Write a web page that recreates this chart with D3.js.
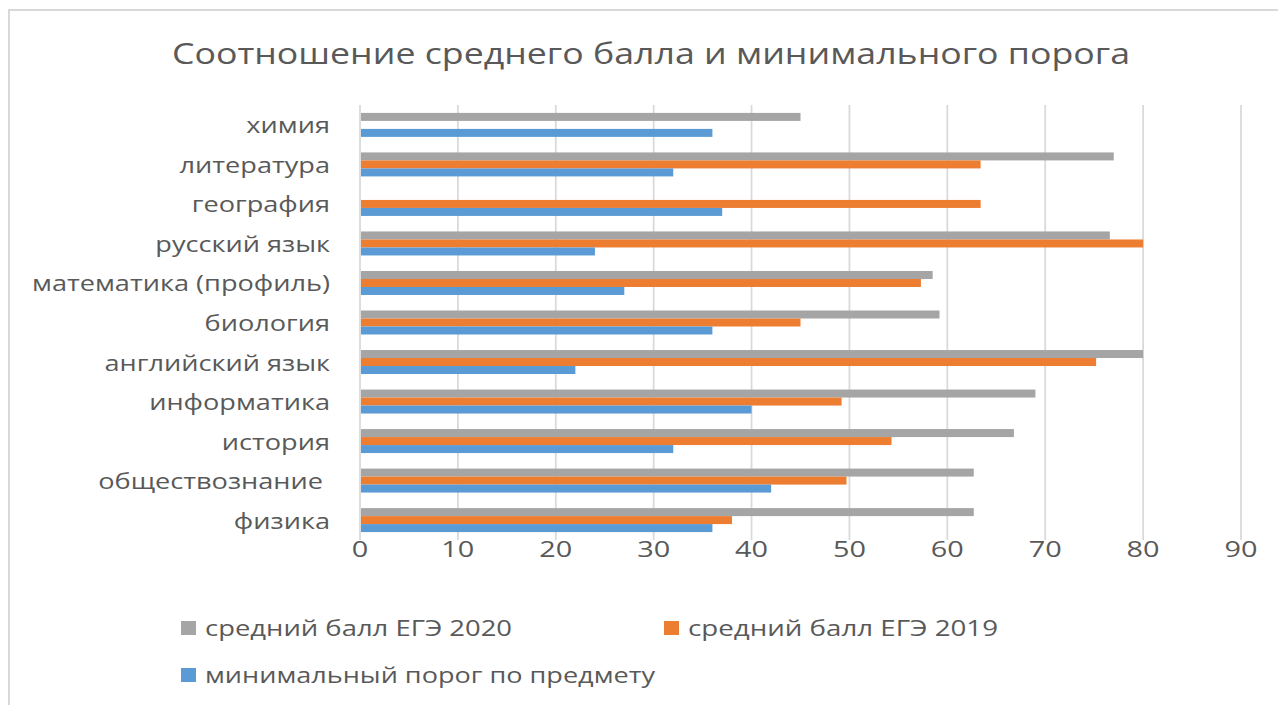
<!DOCTYPE html>
<html><head><meta charset="utf-8">
<script src="https://cdn.jsdelivr.net/npm/d3@7"></script>
<style>body{margin:0;background:#fff}svg{display:block}</style>
</head><body>
<svg id="c" width="1278" height="705"></svg>
<script>
const title = "Соотношение среднего балла и минимального порога";
const categories = ["химия","литература","география","русский язык","математика (профиль)","биология","английский язык","информатика","история","обществознание ","физика"];
const seriesNames = ["средний балл ЕГЭ 2020","средний балл ЕГЭ 2019","минимальный порог по предмету"];
const avg2020 = [45, 77, null, 76.6, 58.5, 59.2, 80, 69, 66.8, 62.7, 62.7];
const avg2019 = [null, 63.4, 63.4, 80, 57.3, 45, 75.2, 49.2, 54.3, 49.7, 38];
const minThreshold = [36, 32, 37, 24, 27, 36, 22, 40, 32, 42, 36];
const xTicks = [0,10,20,30,40,50,60,70,80,90];
const colors = ["#A5A5A5","#ED7D31","#5B9BD5"];

const series = [avg2020, avg2019, minThreshold];
const svg = d3.select("#c");
const FONT = "'Open Sans', sans-serif";
const TXT = "#595959";

// frame
svg.append("rect").attr("x",9).attr("y",10).attr("width",1290).attr("height",720)
  .attr("fill","#fff").attr("stroke","#d9d9d9").attr("stroke-width",2);

const x = d3.scaleLinear().domain([0,90]).range([360,1241]);
const y = d3.scaleBand().domain(categories).range([105,540]).paddingInner(0.393).paddingOuter(0.2);
const sub = d3.scaleBand().domain([0,1,2]).range([0,y.bandwidth()]);

function stretch(sel, sx){ sel.each(function(){ const w=this.getComputedTextLength(); d3.select(this).attr("textLength",w*sx).attr("lengthAdjust","spacingAndGlyphs"); }); }
function fitGroup(sel, refText, target){
  const t = svg.append("text").style("font-family",FONT).style("font-size",sel.style("font-size")).text(refText);
  const w = t.node().getComputedTextLength(); t.remove();
  stretch(sel, target/w);
}

// grid
svg.append("g").selectAll("line").data(xTicks).join("line")
  .attr("x1",d=>x(d)).attr("x2",d=>x(d)).attr("y1",105).attr("y2",540)
  .attr("stroke","#d9d9d9").attr("stroke-width",1.75);

// bars
series.forEach((vals,si)=>{
  svg.append("g").selectAll("rect").data(categories.map((c,i)=>({c,v:vals[i]})).filter(d=>d.v!=null)).join("rect")
    .attr("x",x(0)+1).attr("y",d=>y(d.c)+sub(si)).attr("height",sub.bandwidth())
    .attr("width",d=>x(d.v)-x(0)-1).attr("fill",colors[si]);
});

// category labels
const cl = svg.append("g").selectAll("text").data(categories).join("text")
  .attr("x",330).attr("y",d=>y(d)+y.bandwidth()/2+8.5).attr("text-anchor","end")
  .style("font-family",FONT).style("font-size","21px").attr("fill",TXT).attr("xml:space","preserve").text(d=>d);
fitGroup(cl, "математика (профиль)", 298);

// x tick labels
const tl = svg.append("g").selectAll("text").data(xTicks).join("text")
  .attr("x",d=>x(d)).attr("y",557).attr("text-anchor","middle")
  .style("font-family",FONT).style("font-size","22px").attr("fill",TXT).text(d=>d);
fitGroup(tl, "10", 33);

// title
const tt = svg.append("text").attr("x",651).attr("y",64).attr("text-anchor","middle")
  .style("font-family",FONT).style("font-size","29px").attr("fill",TXT).text(title);
fitGroup(tt, title, 958);

// legend
const legPos = [[181,628],[664,628],[181,675]];
const legW = [307, 310, 450];
const lg = svg.append("g").selectAll("g").data(seriesNames).join("g")
  .attr("transform",(d,i)=>`translate(${legPos[i][0]},${legPos[i][1]})`);
lg.append("rect").attr("x",0).attr("y",-7).attr("width",15).attr("height",14).attr("fill",(d,i)=>colors[i]);
lg.append("text").attr("x",24).attr("y",8)
  .style("font-family",FONT).style("font-size","21px").attr("fill",TXT).text(d=>d)
  .attr("textLength",(d,i)=>legW[i]).attr("lengthAdjust","spacingAndGlyphs");
</script>
</body></html>
